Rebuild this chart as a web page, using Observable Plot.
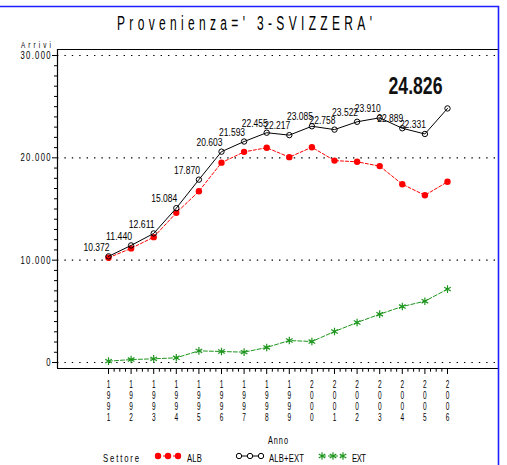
<!DOCTYPE html>
<html><head><meta charset="utf-8">
<script src="https://cdn.jsdelivr.net/npm/d3@7"></script>
<script src="https://cdn.jsdelivr.net/npm/@observablehq/plot@0.6"></script>
<style>body{margin:0;background:#fff} svg{display:block}</style>
</head><body><div id="chart"></div>
<script>
const years = [1991,1992,1993,1994,1995,1996,1997,1998,1999,2000,2001,2002,2003,2004,2005,2006];
const albExt = [10372,11440,12611,15084,17870,20603,21593,22455,22217,23085,22758,23522,23910,22889,22331,24826];
const alb = [10242,11150,12251,14624,16730,19528,20583,20985,20067,21035,19728,19612,19190,17419,16341,17656];
const ext = [130,290,360,460,1140,1075,1010,1470,2150,2050,3030,3910,4720,5470,5990,7170];
const yTicks = [0,10000,20000,30000];
const yTickLabels = ["0","10.000","20.000","30.000"];
const title = "Provenienza=' 3-SVIZZERA'";
const xLabel = "Anno", yLabel = "Arrivi", legendTitle = "Settore";
const seriesNames = ["ALB","ALB+EXT","EXT"];
const seriesColors = ["#ff0000","#000000","#1e961e"];

const rows = years.map((y,i)=>({year:y, alb:alb[i], tot:albExt[i], ext:ext[i]}));
const fmt = v => d3.format(",")(v).replace(/,/g,".");
const xDom = [1988.743, 2008.257], yDom = [-586, 30586];
const minorY = d3.range(0, 30001, 1000).filter(v => v % 10000);
const minorX = d3.range(1991*4, 2006*4+1).map(v => v/4).filter(v => v % 1);
const [red, black, green] = seriesColors;
const sansFont = "Liberation Sans, Arial, sans-serif";

const chart = Plot.plot({
  width: 507, height: 465,
  marginLeft: 57, marginRight: 9, marginTop: 49, marginBottom: 97,
  x: {domain: xDom},
  y: {domain: yDom},
  style: {background: "white", fontFamily: sansFont},
  marks: [
    Plot.ruleY(yTicks, {stroke: "#000", strokeDasharray: "1.4,6", strokeWidth: 1.2}),
    Plot.ruleY([yDom[0]], {stroke: "#000", strokeWidth: 1.2}),
    Plot.ruleY([yDom[1]], {stroke: "#000", strokeWidth: 1.2}),
    Plot.ruleX([xDom[0]], {stroke: "#000", strokeWidth: 1.2}),
    Plot.axisY({ticks: yTicks, tickSize: 5, tickPadding: 2, label: null, fontSize: 11,
      tickFormat: d => yTickLabels[yTicks.indexOf(d)]}),
    Plot.axisY({ticks: minorY, tickSize: 3, tickFormat: () => "", label: null}),
    Plot.axisX({ticks: years, tickSize: 6, tickPadding: 6, label: null, fontSize: 10.5, lineHeight: 1.03,
      tickFormat: d => String(d).split("").join("\n")}),
    Plot.axisX({ticks: minorX, tickSize: 3.7, tickFormat: () => "", label: null}),
    Plot.line(rows, {x: "year", y: "alb", stroke: red, strokeDasharray: "3,2", strokeWidth: 1}),
    Plot.dot(rows, {x: "year", y: "alb", fill: red, r: 3.2}),
    Plot.line(rows, {x: "year", y: "tot", stroke: black, strokeWidth: 1}),
    Plot.dot(rows, {x: "year", y: "tot", stroke: black, fill: "none", r: 2.7, strokeWidth: 1}),
    Plot.line(rows, {x: "year", y: "ext", stroke: green, strokeDasharray: "4,2", strokeWidth: 1}),
    Plot.dot(rows, {x: "year", y: "ext", stroke: green, symbol: "asterisk", r: 3.6, strokeWidth: 1.2}),
    Plot.text(rows.slice(0, -1), {x: "year", y: "tot", text: d => fmt(d.tot), textAnchor: "end",
      dx: 1, dy: -9, fontSize: 10, fill: "#000", className: "vlabel"}),
    Plot.text(rows.slice(-1), {x: "year", y: "tot", text: d => fmt(d.tot), dx: -32, dy: -22,
      fontSize: 24, fontWeight: "bold", fill: "#111", className: "biglabel"})
  ]
});
document.getElementById("chart").append(chart);

const svg = d3.select(chart);
// narrow the data labels
svg.selectAll(".vlabel text").attr("textLength", 26).attr("lengthAdjust", "spacingAndGlyphs");
svg.selectAll(".biglabel text").attr("textLength", 54).attr("lengthAdjust", "spacingAndGlyphs");
// narrow axis labels (SAS-like thin, spaced glyphs)
svg.selectAll('g[aria-label="y-axis tick label"] text').each(function() {
  const t = this.textContent;
  if (!t) return;
  const tr = this.getAttribute("transform") || "";
  this.setAttribute("transform", tr + " scale(0.7,1)");
  if (t.length > 1) d3.select(this).attr("textLength", t.length * 5 / 0.7).attr("lengthAdjust", "spacing");
});
svg.selectAll('g[aria-label="x-axis tick label"] text').each(function() {
  const tr = this.getAttribute("transform") || "";
  if (this.textContent) this.setAttribute("transform", tr + " scale(0.62,1)");
});

function addText(txt, x, y, size, width, sx, weight) {
  svg.append("text")
    .attr("transform", `translate(${x},${y}) scale(${sx},1)`)
    .attr("x", 0).attr("y", 0)
    .attr("text-anchor", "start")
    .attr("font-size", size)
    .attr("font-family", sansFont).attr("font-weight", weight || "normal")
    .attr("textLength", width / sx).attr("lengthAdjust", "spacing")
    .attr("fill", "#000").text(txt);
}
// title
addText(title, 117, 29.5, 20, 255, 0.6, "normal");
// axis titles
addText(yLabel, 21, 47.5, 8.5, 30, 0.75);
addText(xLabel, 268, 443.5, 10.5, 20, 0.7);
// legend
const ly = 456;
addText(legendTitle, 103, 461.5, 11, 36, 0.7);
const legend = [
  {x: [158, 168, 178], tx: 187, tw: 15},
  {x: [239, 250, 261], tx: 269, tw: 35},
  {x: [322, 333, 343], tx: 352, tw: 14}
];
legend.forEach((l, i) => {
  const dash = i === 0 ? "3,2" : i === 2 ? "4,2" : null;
  svg.append("line").attr("x1", l.x[0]).attr("x2", l.x[2]).attr("y1", ly).attr("y2", ly)
    .attr("stroke", seriesColors[i]).attr("stroke-dasharray", dash);
  l.x.forEach(cx => {
    if (i === 0) svg.append("circle").attr("cx", cx).attr("cy", ly).attr("r", 3.2).attr("fill", red);
    else if (i === 1) svg.append("circle").attr("cx", cx).attr("cy", ly).attr("r", 2.7).attr("fill", "white").attr("stroke", black);
    else svg.append("path").attr("transform", `translate(${cx},${ly})`)
      .attr("d", d3.symbol(d3.symbolAsterisk, 40)()).attr("stroke", green).attr("stroke-width", 1.2);
  });
  addText(seriesNames[i], l.tx, 461.5, 11, l.tw, 0.7);
});
// blue border
svg.append("path").attr("d", "M0,6.5H498.5V465").attr("fill", "none").attr("stroke", "#1f1fff").attr("stroke-width", 1.6);
</script>
</body></html>
